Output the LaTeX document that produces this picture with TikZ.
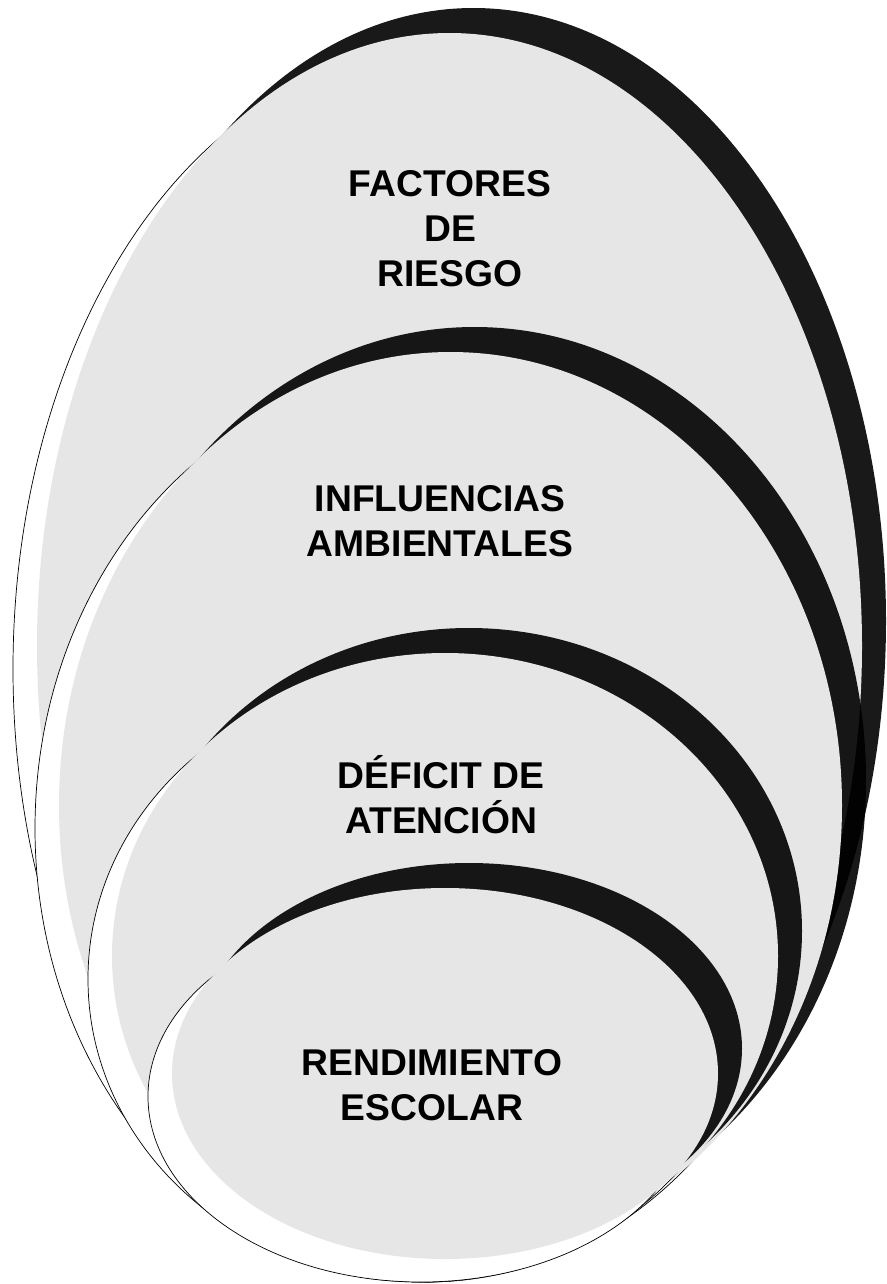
\documentclass[tikz,border=0pt]{standalone}
\usepackage{fontspec}
\setmainfont{Liberation Sans}

\definecolor{ringgray}{HTML}{E6E6E6}

\tikzstyle{glow} = [draw=black, line width=0.6pt, fill=white]
\tikzstyle{shade} = [fill=black, fill opacity=0.9]
\tikzstyle{face} = [fill=ringgray]
\tikzstyle{ringtext} = [font=\bfseries\fontsize{31.8}{38.4}\selectfont, align=center, inner sep=0pt]

% one ring: gray centre x, centre y, x radius, y radius (all in px)
\newcommand{\ring}[4]{%
  \path[glow] (#1-24,#2+23) ellipse [x radius=#3, y radius=#4];
  \path[shade] (#1+24,#2-25) ellipse [x radius=#3, y radius=#4];
  \path[face] (#1,#2) ellipse [x radius=#3, y radius=#4];
}

\begin{document}
\begin{tikzpicture}[x=0.03cm, y=-0.03cm]
\useasboundingbox (0,0) rectangle (886,1284);

%% the four rings, outer to inner
\ring{449.5}{646}{412.5}{613}
\node (factores) [ringtext] at (450,229) {FACTORES\\DE\\RIESGO};

\ring{450.5}{805.5}{391.5}{453.5}
\node (influencias) [ringtext] at (440,521) {INFLUENCIAS\\AMBIENTALES};

\ring{445}{956}{333}{303}
\node (deficit) [ringtext] at (441,795) {DÉFICIT DE\\ATENCIÓN};

\ring{445}{1073.5}{273}{185.5}
\node (rendimiento) [ringtext] at (432,1085) {RENDIMIENTO\\ESCOLAR};
\end{tikzpicture}
\end{document}
